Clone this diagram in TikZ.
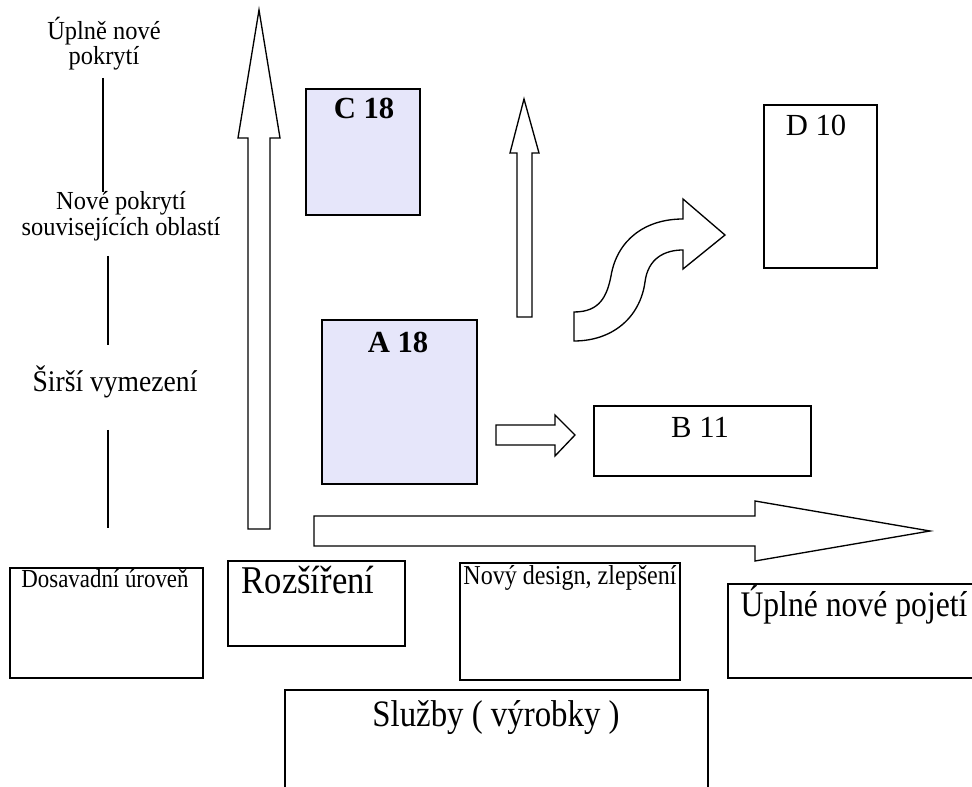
\documentclass[tikz,border=0pt]{standalone}
\usepackage{fontspec}
\usepackage{graphicx}
\setmainfont{Liberation Serif}
\usetikzlibrary{fit}
\definecolor{boxfill}{RGB}{230,230,250}
% narrow setting of a caption: horizontal squeeze factor, then text
\newcommand\narrowtext[2]{\scalebox{#1}[1]{\begin{tabular}{@{}c@{}}#2\end{tabular}}}
\tikzset{
  every picture/.style={x=0.75pt,y=-0.75pt},
  frame/.style={draw=black,line width=1pt,inner sep=0pt,rectangle},
  shade box/.style={frame,fill=boxfill},
  blockarrow/.style={draw=black,line width=1pt,fill=white,line join=miter},
  axisline/.style={draw=black,line width=1pt},
  lbl/.style={inner sep=0pt,align=center},
}
\begin{document}
\begin{tikzpicture}
\useasboundingbox (0,0) rectangle (972,787);
\clip (0,0) rectangle (972,787);

% left scale: levels of coverage
\node[lbl,font=\fontsize{19.5}{21}\selectfont] (lv3) at (104,45)
  {\narrowtext{0.94}{Úplně nové\\[-2pt]pokrytí}};
\node[lbl,font=\fontsize{19.5}{21}\selectfont] (lv2) at (121,217)
  {\narrowtext{0.94}{Nové pokrytí\\[-2pt]souvisejících oblastí}};
\node[lbl,font=\fontsize{22.5}{24}\selectfont] (lv1) at (115,383)
  {\narrowtext{0.92}{Širší vymezení}};
\coordinate (s1a) at (103,78);  \coordinate (s1b) at (103,192);
\coordinate (s2a) at (108,256); \coordinate (s2b) at (108,345);
\coordinate (s3a) at (108,430); \coordinate (s3b) at (108,528);
\draw[axisline] (s1a) -- (s1b);
\draw[axisline] (s2a) -- (s2b);
\draw[axisline] (s3a) -- (s3b);

% vertical axis arrow
\draw[blockarrow] (248,529) -- (248,138) -- (238,138) -- (259,10) -- (280,138)
  -- (270,138) -- (270,529) -- cycle;
% horizontal axis arrow
\draw[blockarrow] (314,516) -- (755,516) -- (755,501) -- (930,531) -- (755,561)
  -- (755,546) -- (314,546) -- cycle;

% quadrant boxes
\node[shade box,fit={(306,89) (420,215)}] (C) {};
\node[lbl,font=\fontsize{23}{25}\selectfont\bfseries] (Ct) at (364,108) {C 18};
\node[shade box,fit={(322,320) (477,484)}] (A) {};
\node[lbl,font=\fontsize{23}{25}\selectfont\bfseries] (At) at (398,342) {A 18};
\node[frame,fit={(594,406) (811,476)}] (B) {};
\node[lbl,font=\fontsize{23}{25}\selectfont] (Bt) at (700,427) {B 11};
\node[frame,fit={(764,105) (877,268)}] (D) {};
\node[lbl,font=\fontsize{23}{25}\selectfont] (Dt) at (816,125) {D 10};

% small up arrow
\draw[blockarrow] (517,317) -- (517,153) -- (510,153) -- (524,99) -- (539,153)
  -- (532,153) -- (532,317) -- cycle;
% small right arrow towards B
\draw[blockarrow] (496,425) -- (555,425) -- (555,415) -- (575,435) -- (555,456)
  -- (555,445) -- (496,445) -- cycle;
% curved arrow towards D
\draw[blockarrow] (574,312) .. controls (600,312) and (607,296) .. (611,276)
  .. controls (617,240) and (645,219) .. (683,219) -- (683,199) -- (725,235)
  -- (683,269) -- (683,250) .. controls (665,250) and (648,258) .. (645,282)
  .. controls (640,318) and (612,341) .. (574,341) -- cycle;

% bottom scale: product levels
\node[frame,fit={(10,568) (203,678)}] (p0) {};
\node[lbl,font=\fontsize{19.5}{21}\selectfont] (p0t) at (105,582)
  {\narrowtext{0.88}{Dosavadní úroveň}};
\node[frame,fit={(228,561) (405,646)}] (p1) {};
\node[lbl,font=\fontsize{29.5}{31}\selectfont] (p1t) at (308,585)
  {\narrowtext{0.88}{Rozšíření}};
\node[frame,fit={(460,563) (680,680)}] (p2) {};
\node[lbl,font=\fontsize{20.5}{22}\selectfont] (p2t) at (570,579)
  {\narrowtext{0.88}{Nový design, zlepšení}};
\node[frame,fit={(728,584) (990,678)}] (p3) {};
\node[lbl,font=\fontsize{27}{29}\selectfont] (p3t) at (854,607)
  {\narrowtext{0.88}{Úplné nové pojetí}};
\node[frame,fit={(285,690) (708,800)}] (sv) {};
\node[lbl,font=\fontsize{28}{30}\selectfont] (svt) at (496,719)
  {\narrowtext{0.88}{Služby ( výrobky )}};
\end{tikzpicture}
\end{document}
